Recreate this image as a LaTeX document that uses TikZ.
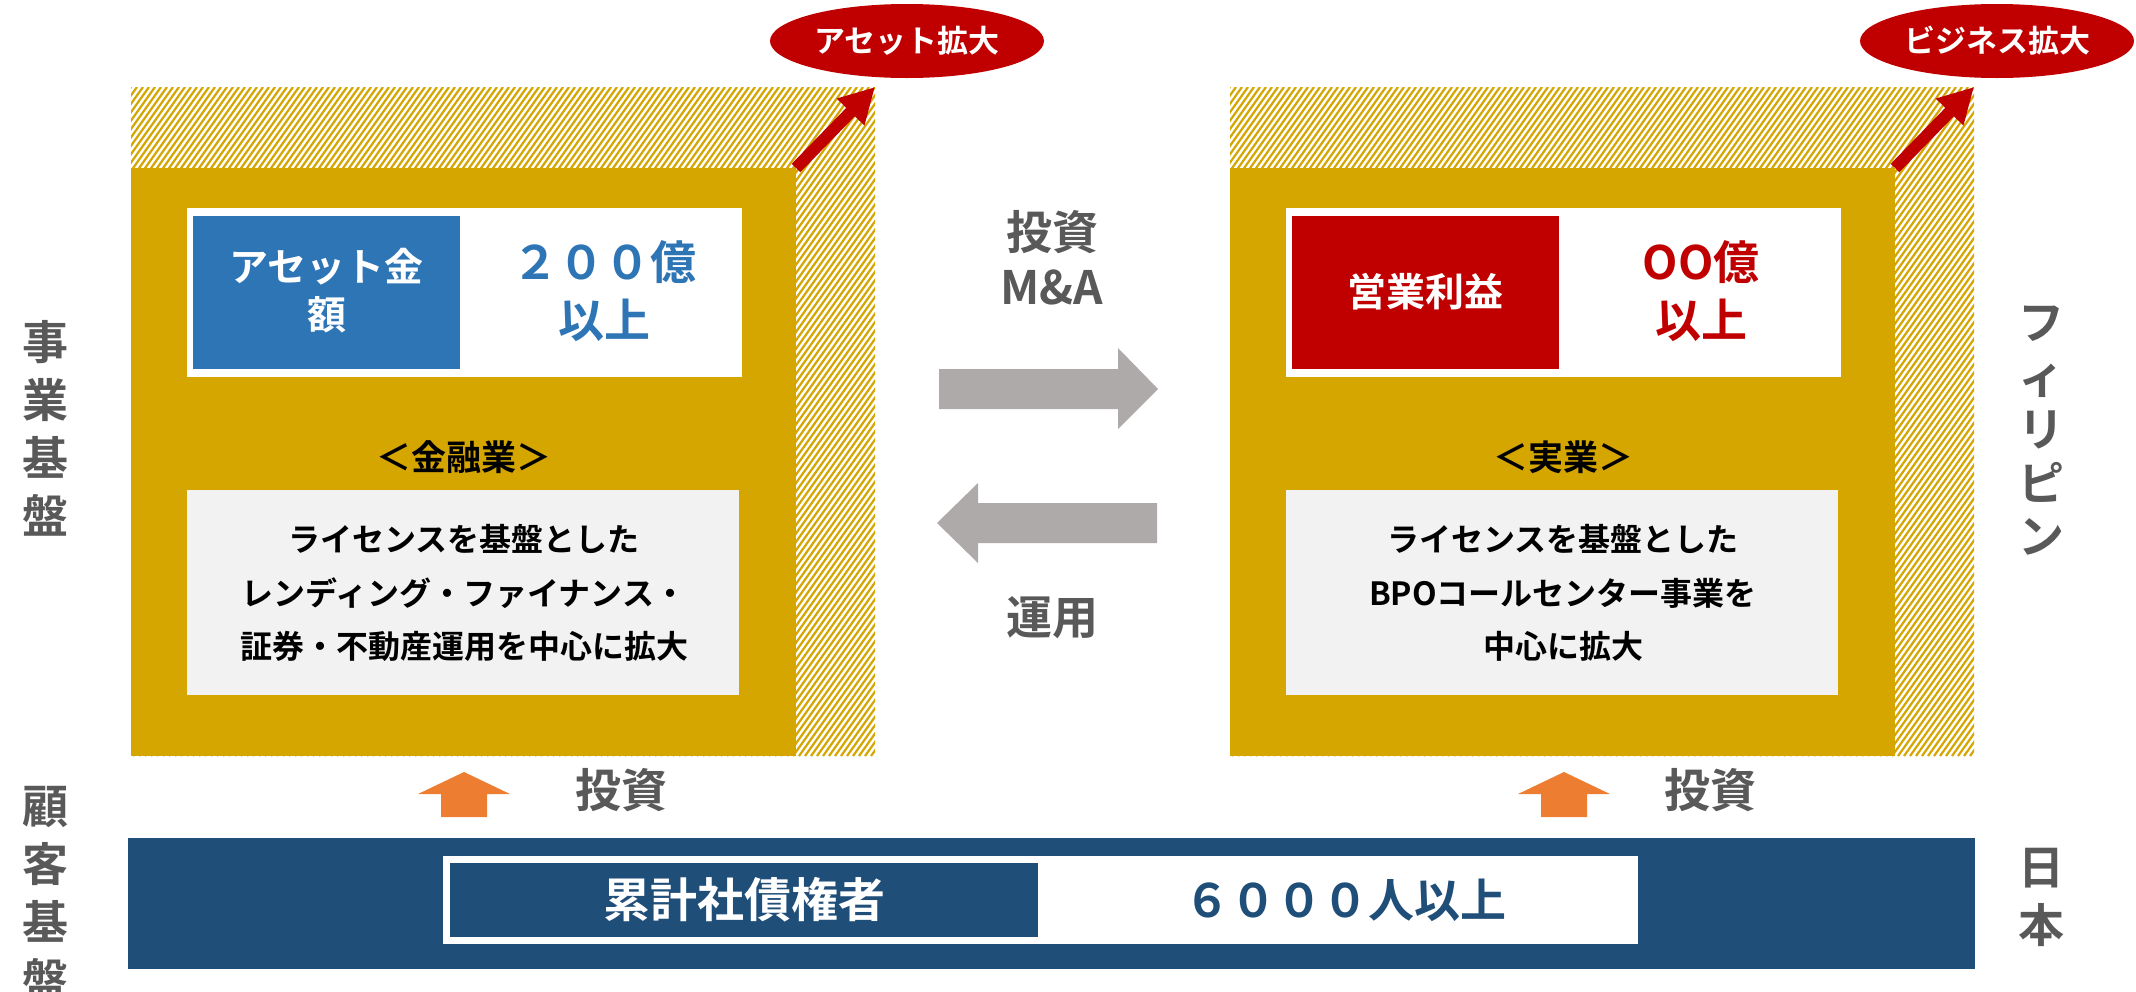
\documentclass[tikz,border=0pt]{standalone}
\usepackage{fontspec}
\setmainfont{Noto Sans CJK JP Bold}
\usetikzlibrary{arrows.meta,shapes.geometric}
\definecolor{goldc}{HTML}{D5A500}
\definecolor{bluec}{HTML}{2E75B6}
\definecolor{redc}{HTML}{C00000}
\definecolor{navyc}{HTML}{1F4E79}
\definecolor{orangec}{HTML}{ED7D31}
\definecolor{arrowgray}{HTML}{AEAAAA}
\definecolor{boxgray}{HTML}{F2F2F2}
\definecolor{labelgray}{HTML}{595959}
\newcommand\fsz[2]{\fontsize{#1}{#2}\selectfont}
\begin{document}
\begin{tikzpicture}[x=0.5pt,y=-0.5pt,
  every node/.style={inner sep=0pt,outer sep=0pt},
  goldbox/.style={fill=goldc,minimum width=332.5pt,minimum height=294pt},
  whitebox/.style={fill=white,minimum width=277.5pt,minimum height=84.5pt},
  keybox/.style={minimum width=133.5pt,minimum height=76.5pt},
  graybox/.style={fill=boxgray,minimum width=276pt,minimum height=102.5pt},
  tag/.style={ellipse,fill=redc,minimum width=137pt,minimum height=37pt,text=white,font=\fsz{15.5}{18}},
  label/.style={text=labelgray,align=center,font=\fsz{23}{27.5}},
  vlabel/.style={text=labelgray,align=center},
  keytext/.style={text=white,align=center,font=\fsz{19.5}{24}},
  valtext/.style={align=center,font=\fsz{23}{29}},
  secttext/.style={text=black,font=\fsz{17.5}{20}},
  desctext/.style={text=black,align=center,font=\fsz{16}{26.75}},
  growarrow/.style={redc,line width=6pt,-{Triangle[length=17.5pt,width=18pt]}},
]
\useasboundingbox (0,0) rectangle (2136,991);

% hatched growth areas
\foreach \ox in {0,1099}{
  \begin{scope}
    \clip (131+\ox,87) rectangle (875+\ox,756);
    \foreach \i in {0,...,205}{
      \draw[goldc,line width=1.1pt] ({-347+\ox+\i*6},756) -- ({131+\ox+\i*6},87);
    }
  \end{scope}
}

% ---------- left panel ----------
\node[goldbox] (lgold) at (463.5,462) {};
\coordinate (ltip) at (875,87);
\draw[growarrow] (lgold.north east) -- (ltip);
\node[tag] (ltag) at (907,41) {アセット拡大};
\node[whitebox] (lwhite) at (464.5,292.5) {};
\node[keybox,fill=bluec] (lkey) at (326.5,292.5) {};
\node[keytext] (lkeyt) at (326.5,291) {アセット金\\額};
\node[valtext,text=bluec] (lval) at (604,291) {２００億\\以上};
\node[secttext] (lsect) at (464,457) {＜金融業＞};
\node[graybox] (lgray) at (463,592.5) {};
\node[desctext] (ldesc) at (464,593) {ライセンスを基盤とした\\レンディング・ファイナンス・\\証券・不動産運用を中心に拡大};

% ---------- right panel ----------
\node[goldbox] (rgold) at (1562.5,462) {};
\coordinate (rtip) at (1974,87);
\draw[growarrow] (rgold.north east) -- (rtip);
\node[tag] (rtag) at (1997,41) {ビジネス拡大};
\node[whitebox] (rwhite) at (1563.5,292.5) {};
\node[keybox,fill=redc] (rkey) at (1425.5,292.5) {};
\node[keytext] (rkeyt) at (1425.5,292) {営業利益};
\node[valtext,text=redc] (rval) at (1701,291) {OO億\\以上};
\node[secttext] (rsect) at (1563,457) {＜実業＞};
\node[graybox] (rgray) at (1562,592.5) {};
\node[desctext] (rdesc) at (1563,593) {ライセンスを基盤とした\\BPOコールセンター事業を\\中心に拡大};

% ---------- middle ----------
\node[label] (mtop) at (1052,258) {投資\\M\&A};
\fill[arrowgray] (939,369) -- (1118,369) -- (1118,348) -- (1158,389) -- (1118,429) -- (1118,409) -- (939,409) -- cycle;
\fill[arrowgray] (1157,503) -- (978,503) -- (978,483) -- (937,523) -- (978,563) -- (978,543) -- (1157,543) -- cycle;
\node[label] (mbot) at (1052,618) {運用};

% ---------- bottom ----------
\foreach \cx in {464,1564}{
  \fill[orangec] (\cx,772) -- (\cx+46,794) -- (\cx+23,794) -- (\cx+23,817) -- (\cx-23,817) -- (\cx-23,794) -- (\cx-46,794) -- cycle;
}
\node[label] (linv) at (621,790) {投資};
\node[label] (rinv) at (1710,790) {投資};
\node[fill=navyc,minimum width=923.5pt,minimum height=65.5pt] (bar) at (1051.5,903.5) {};
\node[fill=white,minimum width=597.5pt,minimum height=44pt] (barwhite) at (1040.5,900) {};
\node[fill=navyc,minimum width=294pt,minimum height=37pt] (barkey) at (744,900) {};
\node[text=white,font=\fsz{23.5}{28}] (barkeyt) at (744,900) {累計社債権者};
\node[text=navyc,font=\fsz{23}{28}] (barval) at (1345,900) {６０００人以上};

% ---------- side labels ----------
\node[vlabel,font=\fsz{23}{29}] (jigyo) at (46,428) {事\\業\\基\\盤};
\node[vlabel,font=\fsz{23}{29}] (kokyaku) at (46,893) {顧\\客\\基\\盤};
\node[vlabel,font=\fsz{23}{26.75}] (phil) at (2041,431) {フ\\ィ\\リ\\ピ\\ン};
\node[vlabel,font=\fsz{23}{29}] (japan) at (2041,897) {日\\本};
\end{tikzpicture}
\end{document}
